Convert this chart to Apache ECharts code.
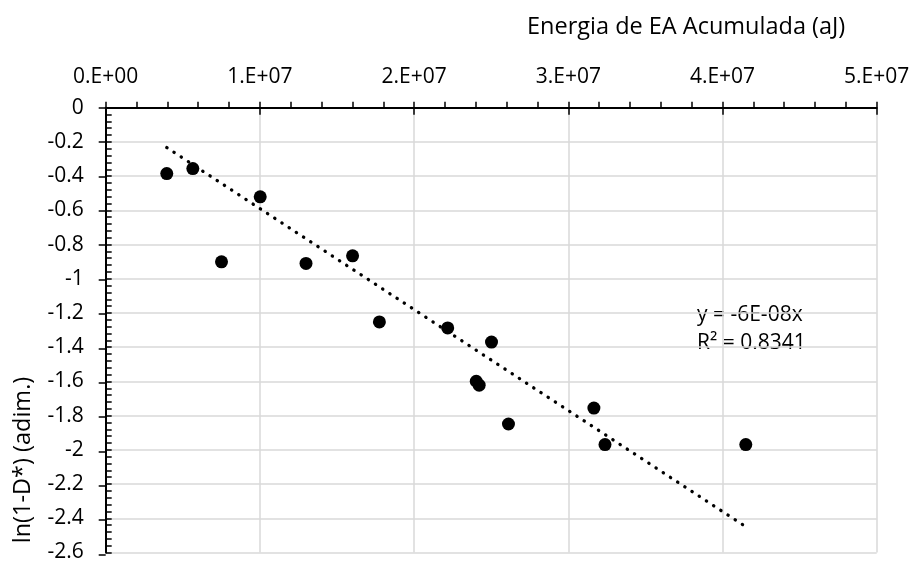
<!DOCTYPE html>
<html>
<head>
<meta charset="utf-8">
<title>Energia de EA Acumulada</title>
<script src="https://cdn.jsdelivr.net/npm/echarts@6/dist/echarts.min.js"></script>
<style>
    html, body { margin: 0; padding: 0; background: #fff; }
    #chart { width: 914px; height: 563px; }
</style>
</head>
<body>
<div id="chart"></div>
<script>
// Datos
const energia = [3.96e6, 5.65e6, 7.51e6, 1.002e7, 1.299e7, 1.601e7, 1.775e7, 2.218e7,
                 2.502e7, 2.403e7, 2.422e7, 2.612e7, 3.166e7, 3.238e7, 4.151e7];
const lnDano = [-0.385, -0.356, -0.901, -0.521, -0.910, -0.866, -1.252, -1.287,
                -1.370, -1.599, -1.622, -1.849, -1.756, -1.969, -1.969];

// Línea de tendencia (extremos leídos)
const tendX = [3.96e6, 4.13e7];
const tendY = [-0.233, -2.437];

const xTickLabels = ['0.E+00', '1.E+07', '2.E+07', '3.E+07', '4.E+07', '5.E+07'];
const ecuacion = ['y = -6E-08x', 'R² = 0.8341'];

const fuente = 'Open Sans';
const negro = '#000';
const chart = echarts.init(document.getElementById('chart'));

const gridBase = { left: 105.7, right: 37.3, top: 107.7, bottom: 8.5, containLabel: false };

const ejeX = { type: 'value', position: 'top', min: 0, max: 5e7, interval: 1e7 };
const ejeY = { type: 'value', position: 'left', min: -2.6, max: 0, interval: 0.2 };

const option = {
    animation: false,
    backgroundColor: '#fff',
    textStyle: { fontFamily: fuente },
    // dos rejillas iguales: la segunda solo dibuja las marcas que cruzan el eje
    grid: [Object.assign({}, gridBase), Object.assign({}, gridBase)],
    xAxis: [
        Object.assign({}, ejeX, {
            gridIndex: 0,
            axisLine: { show: true, lineStyle: { color: negro, width: 2 } },
            axisTick: { show: true, inside: false, length: 6, lineStyle: { color: negro, width: 1.5 } },
            minorTick: { show: true, splitNumber: 5, length: 6, lineStyle: { color: negro, width: 1.5 } },
            axisLabel: {
                margin: 20, fontSize: 21, color: negro, fontFamily: fuente,
                formatter: v => xTickLabels[Math.round(v / 1e7)]
            },
            splitLine: { show: true, lineStyle: { color: '#d9d9d9', width: 1.5 } }
        }),
        Object.assign({}, ejeX, {
            gridIndex: 1,
            axisLine: { show: false },
            axisTick: { show: true, inside: true, length: 7, lineStyle: { color: negro, width: 1.5 } },
            axisLabel: { show: false },
            splitLine: { show: false }
        })
    ],
    yAxis: [
        Object.assign({}, ejeY, {
            gridIndex: 0,
            axisLine: { show: true, onZero: false, lineStyle: { color: negro, width: 2 } },
            axisTick: { show: true, inside: true, length: 6, lineStyle: { color: negro, width: 1.5 } },
            minorTick: { show: true, splitNumber: 5, length: 6, lineStyle: { color: negro, width: 1.5 } },
            axisLabel: { margin: 22, fontSize: 21, color: negro, fontFamily: fuente },
            splitLine: { show: true, lineStyle: { color: '#d9d9d9', width: 1.5 } }
        }),
        Object.assign({}, ejeY, {
            gridIndex: 1,
            axisLine: { show: false, onZero: false },
            axisTick: { show: true, inside: false, length: 7, lineStyle: { color: negro, width: 1.5 } },
            axisLabel: { show: false },
            splitLine: { show: false }
        })
    ],
    graphic: [
        {
            type: 'text', x: 527, y: 27,
            style: {
                text: 'Energia de EA Acumulada (aJ)', fontSize: 23.5, fontFamily: fuente, fill: negro,
                verticalAlign: 'middle'
            }
        },
        {
            type: 'text', x: 23, y: 460, rotation: Math.PI / 2,
            style: {
                text: 'ln(1-D*) (adim.)', fontSize: 23.5, fontFamily: fuente, fill: negro,
                align: 'center', verticalAlign: 'middle'
            }
        },
        {
            type: 'text', x: 697, y: 329,
            style: {
                text: ecuacion.join('\n'), fontSize: 21, lineHeight: 28, fontFamily: fuente, fill: negro,
                verticalAlign: 'middle'
            }
        }
    ],
    series: [
        {
            name: 'tendencia',
            type: 'line',
            xAxisIndex: 0, yAxisIndex: 0,
            data: tendX.map((x, i) => [x, tendY[i]]),
            showSymbol: false,
            lineStyle: { color: negro, width: 3.3, type: [0.3, 8.3], cap: 'round' },
            z: 3
        },
        {
            name: 'datos',
            type: 'scatter',
            xAxisIndex: 0, yAxisIndex: 0,
            data: energia.map((x, i) => [x, lnDano[i]]),
            symbol: 'circle',
            symbolSize: 13,
            itemStyle: { color: negro, opacity: 1 },
            z: 4
        }
    ]
};

chart.setOption(option);
</script>
</body>
</html>
